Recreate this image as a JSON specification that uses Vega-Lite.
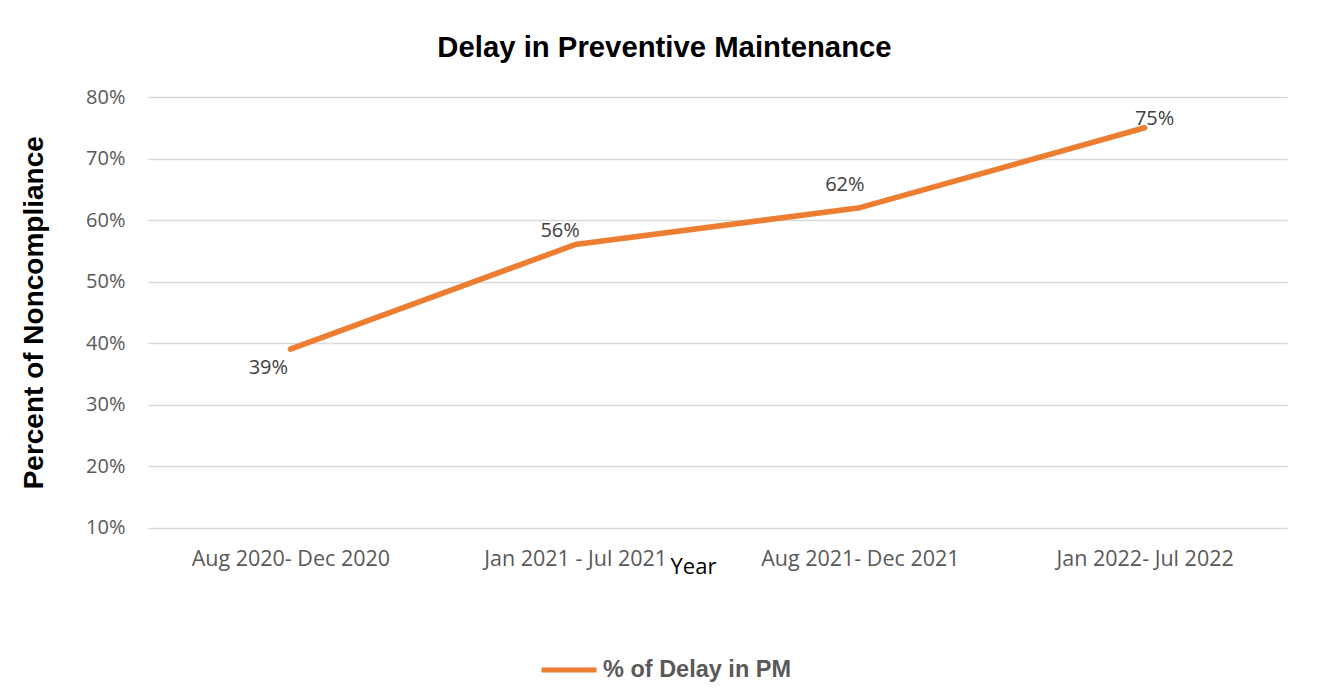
{
  "$schema": "https://vega.github.io/schema/vega-lite/v6.json",
  "width": 1139,
  "height": 430.5,
  "autosize": {"type": "none"},
  "padding": {"left": 148, "top": 97, "right": 30, "bottom": 172.5},
  "background": "white",
  "title": {
    "text": "Delay in Preventive Maintenance",
    "font": "Liberation Sans",
    "fontSize": 29.3,
    "fontWeight": "bold",
    "color": "black",
    "anchor": "middle",
    "frame": "group",
    "dx": -53,
    "baseline": "alphabetic",
    "offset": 1
  },
  "data": {
    "values": [
      {"period": "Aug 2020- Dec 2020", "delay": 0.39, "series": "% of Delay in PM"},
      {"period": "Jan 2021 - Jul 2021", "delay": 0.56, "series": "% of Delay in PM"},
      {"period": "Aug 2021- Dec 2021", "delay": 0.62, "series": "% of Delay in PM"},
      {"period": "Jan 2022- Jul 2022", "delay": 0.75, "series": "% of Delay in PM"}
    ]
  },
  "config": {
    "view": {"stroke": null}
  },
  "encoding": {
    "x": {
      "field": "period",
      "type": "ordinal",
      "sort": null,
      "scale": {"type": "point", "padding": 0.5},
      "axis": {
        "title": "Year",
        "titleFont": "Open Sans",
        "titleFontSize": 22,
        "titleFontWeight": "normal",
        "titleColor": "black",
        "titleX": 545,
        "titleY": 45.5,
        "titleBaseline": "alphabetic",
        "titleAlign": "center",
        "labelFont": "Open Sans",
        "labelFontSize": 21.5,
        "labelColor": "#595959",
        "labelAngle": 0,
        "labelBaseline": "alphabetic",
        "labelPadding": 37.5,
        "labelLimit": 0,
        "ticks": false,
        "tickSize": 0,
        "domain": false,
        "grid": false
      }
    },
    "y": {
      "field": "delay",
      "type": "quantitative",
      "scale": {"domain": [0.1, 0.8], "nice": false, "zero": false},
      "axis": {
        "title": "Percent of Noncompliance",
        "titleFont": "Liberation Sans",
        "titleFontSize": 28,
        "titleFontWeight": "bold",
        "titleColor": "black",
        "titleX": -114,
        "titleY": 215.25,
        "titleAngle": -90,
        "titleAlign": "center",
        "titleBaseline": "middle",
        "titleLimit": 0,
        "values": [0.1, 0.2, 0.3, 0.4, 0.5, 0.6, 0.7, 0.8],
        "format": ".0%",
        "labelFont": "Open Sans",
        "labelFontSize": 20,
        "labelColor": "#595959",
        "labelPadding": 23,
        "ticks": false,
        "tickSize": 0,
        "domain": false,
        "gridColor": "#D9D9D9",
        "gridWidth": 1.5
      }
    }
  },
  "layer": [
    {
      "mark": {"type": "line", "strokeWidth": 5.5, "strokeCap": "round", "strokeJoin": "round"},
      "encoding": {
        "color": {
          "field": "series",
          "type": "nominal",
          "scale": {"range": ["#ED7D31"]},
          "legend": {
            "title": null,
            "orient": "none",
            "legendX": 391,
            "legendY": 543,
            "symbolType": "stroke",
            "symbolSize": 3025,
            "symbolStrokeWidth": 5,
            "labelFont": "Liberation Sans",
            "labelFontSize": 23.5,
            "labelFontWeight": "bold",
            "labelColor": "#595959",
            "labelOffset": 4,
            "labelLimit": 0,
            "padding": 0
          }
        }
      }
    },
    {
      "transform": [{"filter": "datum.period === 'Aug 2020- Dec 2020'"}],
      "mark": {"type": "text", "dx": -22, "dy": 25, "align": "center", "baseline": "alphabetic", "font": "Open Sans", "fontSize": 20, "color": "#404040"},
      "encoding": {"text": {"field": "delay", "type": "quantitative", "format": ".0%"}}
    },
    {
      "transform": [{"filter": "datum.period === 'Jan 2021 - Jul 2021'"}],
      "mark": {"type": "text", "dx": -15, "dy": -8, "align": "center", "baseline": "alphabetic", "font": "Open Sans", "fontSize": 20, "color": "#404040"},
      "encoding": {"text": {"field": "delay", "type": "quantitative", "format": ".0%"}}
    },
    {
      "transform": [{"filter": "datum.period === 'Aug 2021- Dec 2021'"}],
      "mark": {"type": "text", "dx": -15, "dy": -17, "align": "center", "baseline": "alphabetic", "font": "Open Sans", "fontSize": 20, "color": "#404040"},
      "encoding": {"text": {"field": "delay", "type": "quantitative", "format": ".0%"}}
    },
    {
      "transform": [{"filter": "datum.period === 'Jan 2022- Jul 2022'"}],
      "mark": {"type": "text", "dx": 10, "dy": -3, "align": "center", "baseline": "alphabetic", "font": "Open Sans", "fontSize": 20, "color": "#404040"},
      "encoding": {"text": {"field": "delay", "type": "quantitative", "format": ".0%"}}
    }
  ]
}
